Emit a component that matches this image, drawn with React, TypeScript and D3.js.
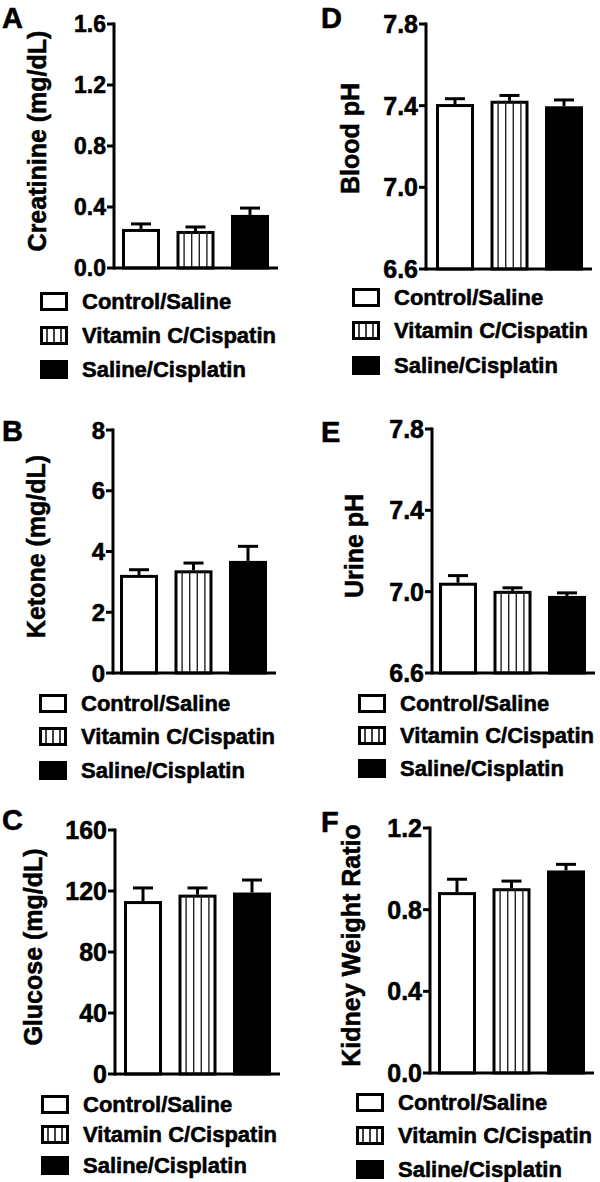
import React from "react";
import * as d3 from "d3";

// ---------- data ----------
const groups = ["Control/Saline", "Vitamin C/Cispatin", "Saline/Cisplatin"];

const creatinineMean = [0.256, 0.243, 0.348];
const creatinineSem = [0.033, 0.026, 0.045];
const creatinineTicks = [0, 0.4, 0.8, 1.2, 1.6];

const ketoneMean = [3.23, 3.38, 3.69];
const ketoneSem = [0.17, 0.24, 0.48];
const ketoneTicks = [0, 2, 4, 6, 8];

const glucoseMean = [113.4, 117.6, 119.0];
const glucoseSem = [8.6, 4.4, 8.2];
const glucoseTicks = [0, 40, 80, 120, 160];

const bloodPhMean = [7.408, 7.424, 7.397];
const bloodPhSem = [0.026, 0.026, 0.031];
const phTicks = [6.6, 7.0, 7.4, 7.8];

const urinePhMean = [7.044, 7.004, 6.979];
const urinePhSem = [0.035, 0.015, 0.015];

const kidneyMean = [0.886, 0.905, 0.992];
const kidneySem = [0.063, 0.035, 0.03];
const kidneyTicks = [0, 0.4, 0.8, 1.2];

// ---------- layout ----------
const FONT = "'Liberation Sans', Arial, Helvetica, sans-serif";
const TXT = { fontFamily: FONT, fontWeight: "bold" as const, stroke: "#000", strokeWidth: 0.55 };

type Lay = {
  axisX: number;
  top: number;
  bottom: number;
  barOff: number;
  letterX: number;
  letterY: number;
  labelDx: number;
  labelDy: number;
  legend: number[];
  tickFont: number;
};

function Panel(props: {
  letter: string;
  yLabel: string;
  means: number[];
  sems: number[];
  ticks: number[];
  decimals: number;
  lay: Lay;
}) {
  const { letter, yLabel, means, sems, ticks, decimals, lay } = props;
  const y = d3
    .scaleLinear()
    .domain([ticks[0], ticks[ticks.length - 1]])
    .range([lay.bottom, lay.top]);
  const x = d3
    .scaleBand<string>()
    .domain(groups)
    .range([lay.axisX + lay.barOff, lay.axisX + lay.barOff + 147])
    .paddingInner(0.3028)
    .paddingOuter(0);
  const bw = x.bandwidth();
  const fmt = d3.format(`.${decimals}f`);
  const sw = 3;
  const labelCx = lay.axisX - lay.labelDx;
  const labelCy = (lay.top + lay.bottom) / 2 + lay.labelDy;

  return (
    <g>
      <text x={lay.letterX} y={lay.letterY} {...TXT} fontSize={29}>
        {letter}
      </text>
      <text
        transform={`translate(${labelCx},${labelCy}) rotate(-90)`}
        textAnchor="middle"
        {...TXT}
        fontSize={25}
      >
        {yLabel}
      </text>
      {/* bars */}
      {groups.map((g, i) => {
        const bx = x(g) as number;
        const yt = y(means[i]);
        const ye = y(means[i] + sems[i]);
        const cx = bx + bw / 2;
        const hatch =
          i === 1
            ? [1, 2, 3, 4].map((k) => (
                <line
                  key={k}
                  x1={bx + (bw * k) / 5}
                  x2={bx + (bw * k) / 5}
                  y1={yt}
                  y2={lay.bottom}
                  stroke="#222"
                  strokeWidth={1.4}
                />
              ))
            : null;
        return (
          <g key={g}>
            <line x1={cx} x2={cx} y1={yt} y2={ye} stroke="#000" strokeWidth={sw} />
            <line x1={cx - 10} x2={cx + 10} y1={ye} y2={ye} stroke="#000" strokeWidth={sw} />
            <rect
              x={bx + sw / 2}
              y={yt + sw / 2}
              width={bw - sw}
              height={lay.bottom - yt - sw / 2}
              fill={i === 2 ? "#000" : "#fff"}
              stroke="#000"
              strokeWidth={sw}
            />
            {hatch}
          </g>
        );
      })}
      {/* axes */}
      <line
        x1={lay.axisX}
        x2={lay.axisX}
        y1={lay.top - 1.5}
        y2={lay.bottom + 1.5}
        stroke="#000"
        strokeWidth={sw}
      />
      <line
        x1={lay.axisX}
        x2={lay.axisX + lay.barOff + 147 + 9}
        y1={lay.bottom}
        y2={lay.bottom}
        stroke="#000"
        strokeWidth={sw}
      />
      {ticks.map((t) => (
        <g key={t}>
          <line
            x1={lay.axisX - 7}
            x2={lay.axisX}
            y1={y(t)}
            y2={y(t)}
            stroke="#000"
            strokeWidth={sw}
          />
          <text
            x={lay.axisX - 8}
            y={y(t)}
            dy="0.36em"
            textAnchor="end"
            {...TXT}
            fontSize={lay.tickFont}
          >
            {fmt(t)}
          </text>
        </g>
      ))}
      {/* legend */}
      {groups.map((g, i) => {
        const base = lay.bottom + lay.legend[i];
        const bx0 = lay.axisX - 74;
        const by0 = base - 17;
        return (
          <g key={"lg" + g}>
            <rect
              x={bx0 + 1.5}
              y={by0 + 1.5}
              width={25}
              height={16}
              fill={i === 2 ? "#000" : "#fff"}
              stroke="#000"
              strokeWidth={3}
            />
            {i === 1
              ? [1, 2, 3].map((k) => (
                  <line
                    key={k}
                    x1={bx0 + 7 * k}
                    x2={bx0 + 7 * k}
                    y1={by0 + 1.5}
                    y2={by0 + 17.5}
                    stroke="#000"
                    strokeWidth={1.5}
                  />
                ))
              : null}
            <text x={lay.axisX - 32} y={base} {...TXT} fontSize={22}>
              {g}
            </text>
          </g>
        );
      })}
    </g>
  );
}

const layA: Lay = { axisX: 114, top: 24, bottom: 268, barOff: 8, letterX: 2, letterY: 28, labelDx: 68, labelDy: -5, legend: [41, 75, 109], tickFont: 23 };
const layB: Lay = { axisX: 113, top: 430, bottom: 673, barOff: 7, letterX: 2, letterY: 441, labelDx: 68, labelDy: -5, legend: [38, 71, 105], tickFont: 24 };
const layC: Lay = { axisX: 115, top: 830, bottom: 1074, barOff: 9, letterX: 2, letterY: 830, labelDx: 73, labelDy: -5, legend: [38, 68, 99], tickFont: 25 };
const layD: Lay = { axisX: 426, top: 24, bottom: 269, barOff: 10, letterX: 321, letterY: 28, labelDx: 67, labelDy: -8, legend: [36, 69, 104], tickFont: 25 };
const layE: Lay = { axisX: 432, top: 429, bottom: 673, barOff: 7, letterX: 321, letterY: 442, labelDx: 69, labelDy: -5, legend: [38, 70, 103], tickFont: 25 };
const layF: Lay = { axisX: 430, top: 828, bottom: 1073, barOff: 8, letterX: 321, letterY: 832, labelDx: 70, labelDy: -5, legend: [37, 70, 104], tickFont: 25 };

export default function App() {
  return (
    <svg
      width={600}
      height={1182}
      style={{ position: "absolute", left: 0, top: 0, background: "#fff" }}
    >
      <rect x={0} y={0} width={600} height={1182} fill="#fff" />
      <Panel letter="A" yLabel="Creatinine (mg/dL)" means={creatinineMean} sems={creatinineSem} ticks={creatinineTicks} decimals={1} lay={layA} />
      <Panel letter="B" yLabel="Ketone (mg/dL)" means={ketoneMean} sems={ketoneSem} ticks={ketoneTicks} decimals={0} lay={layB} />
      <Panel letter="C" yLabel="Glucose (mg/dL)" means={glucoseMean} sems={glucoseSem} ticks={glucoseTicks} decimals={0} lay={layC} />
      <Panel letter="D" yLabel="Blood pH" means={bloodPhMean} sems={bloodPhSem} ticks={phTicks} decimals={1} lay={layD} />
      <Panel letter="E" yLabel="Urine pH" means={urinePhMean} sems={urinePhSem} ticks={phTicks} decimals={1} lay={layE} />
      <Panel letter="F" yLabel="Kidney Weight Ratio" means={kidneyMean} sems={kidneySem} ticks={kidneyTicks} decimals={1} lay={layF} />
    </svg>
  );
}
